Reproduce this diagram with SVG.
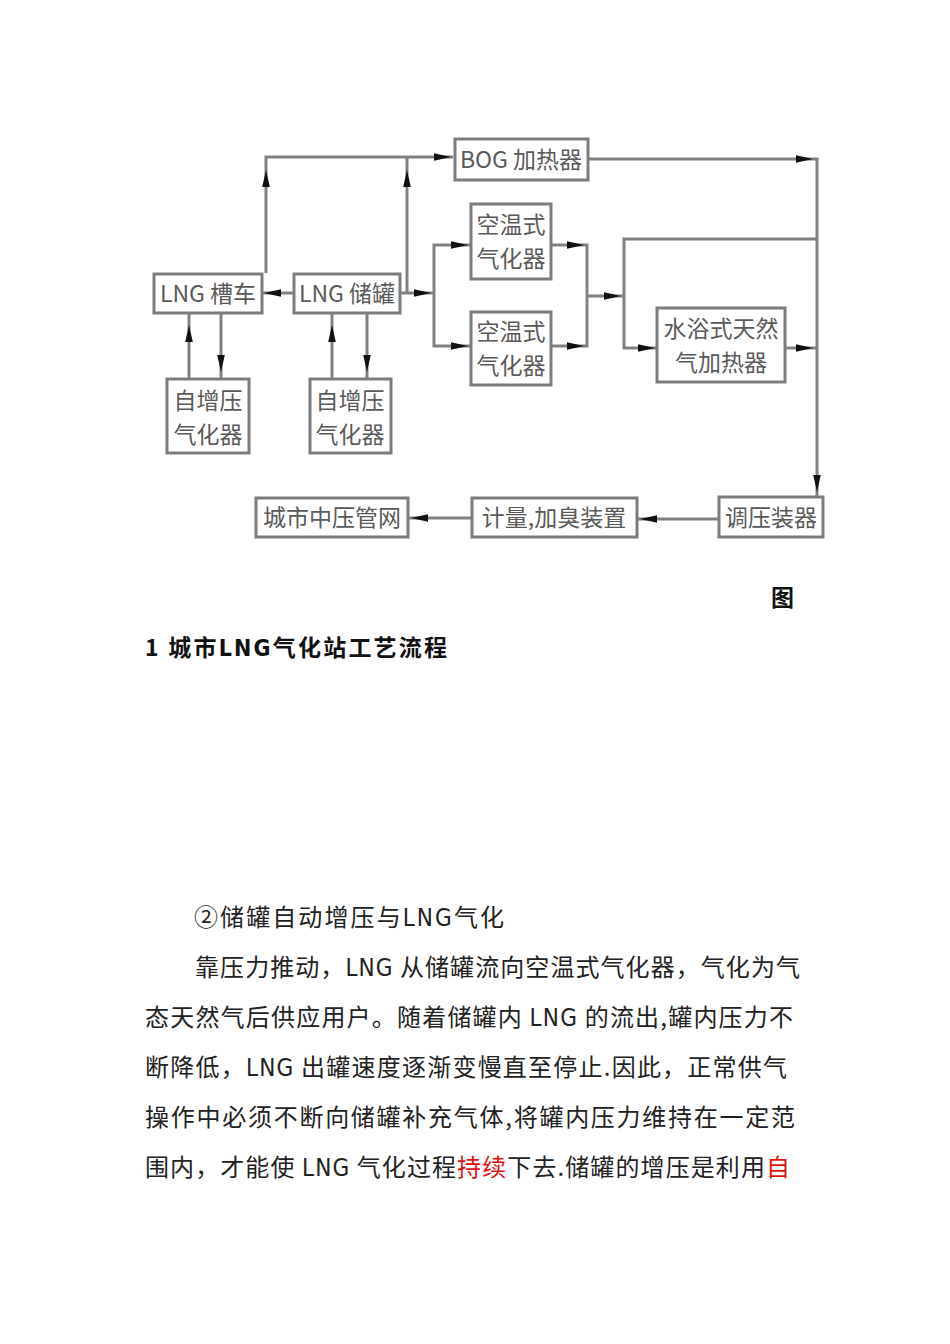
<svg xmlns="http://www.w3.org/2000/svg" xmlns:xlink="http://www.w3.org/1999/xlink" width="950" height="1344" viewBox="0 0 950 1344">
<style>
.box{fill:#fff;stroke:#7c7c7c;stroke-width:3}
.bt{font-family:"Noto Sans CJK SC","Noto Sans",sans-serif;font-size:23px;fill:#5a5a5a;text-anchor:middle}
.ln{fill:none;stroke:#808080;stroke-width:3}
.cap{font-family:"Noto Sans CJK SC","Noto Sans",sans-serif;font-size:23px;font-weight:bold;fill:#111}
.body{font-family:"Noto Sans CJK SC","Noto Sans",sans-serif;font-size:24px;fill:#222}
.lat{font-family:"Liberation Sans Narrow","DejaVu Sans Condensed","Noto Sans CJK SC",sans-serif}
.red{fill:#e01010}
</style>
<defs>
<path id="ah" d="M0,0 L-17,-3.8 L-17,3.8 Z" fill="#111"/>
</defs>
<rect width="950" height="1344" fill="#fff"/>

<g id="connectors">
<path class="ln" d="M266,273 V157 H453"/>
<path class="ln" d="M407,293 V157"/>
<path class="ln" d="M294,293 H262"/>
<path class="ln" d="M400,293 H434"/>
<path class="ln" d="M471,245 H434 V346 H471"/>
<path class="ln" d="M551,245 H587 V346 H551"/>
<path class="ln" d="M587,296 H624"/>
<path class="ln" d="M817,239 H624 V348 H657"/>
<path class="ln" d="M588,159 H817 V496"/>
<path class="ln" d="M785,348 H817"/>
<path class="ln" d="M719,519 H637"/>
<path class="ln" d="M472,518 H408"/>
<path class="ln" d="M189,379 V313"/>
<path class="ln" d="M221,313 V379"/>
<path class="ln" d="M332,379 V313"/>
<path class="ln" d="M367,313 V379"/>
<use xlink:href="#ah" transform="translate(266,170) rotate(-90)"/>
<use xlink:href="#ah" transform="translate(407,170) rotate(-90)"/>
<use xlink:href="#ah" transform="translate(451,157)"/>
<use xlink:href="#ah" transform="translate(264,293) rotate(180)"/>
<use xlink:href="#ah" transform="translate(431,293)"/>
<use xlink:href="#ah" transform="translate(468,245)"/>
<use xlink:href="#ah" transform="translate(468,346)"/>
<use xlink:href="#ah" transform="translate(584,245)"/>
<use xlink:href="#ah" transform="translate(584,346)"/>
<use xlink:href="#ah" transform="translate(621,296)"/>
<use xlink:href="#ah" transform="translate(655,348)"/>
<use xlink:href="#ah" transform="translate(813,159)"/>
<use xlink:href="#ah" transform="translate(813,348)"/>
<use xlink:href="#ah" transform="translate(817,492) rotate(90)"/>
<use xlink:href="#ah" transform="translate(640,519) rotate(180)"/>
<use xlink:href="#ah" transform="translate(411,518) rotate(180)"/>
<use xlink:href="#ah" transform="translate(189,325) rotate(-90)"/>
<use xlink:href="#ah" transform="translate(221,372) rotate(90)"/>
<use xlink:href="#ah" transform="translate(332,325) rotate(-90)"/>
<use xlink:href="#ah" transform="translate(367,372) rotate(90)"/>
</g>

<g id="n-tanker"><rect class="box" x="154" y="274" width="108" height="39"/><text class="bt" x="208" y="302">LNG 槽车</text></g>
<g id="n-tank"><rect class="box" x="294" y="274" width="106" height="39"/><text class="bt" x="347" y="302">LNG 储罐</text></g>
<g id="n-boost1"><rect class="box" x="167" y="379" width="82" height="74"/><text class="bt" x="208" y="409">自增压</text><text class="bt" x="208" y="443">气化器</text></g>
<g id="n-boost2"><rect class="box" x="310" y="379" width="81" height="74"/><text class="bt" x="350" y="409">自增压</text><text class="bt" x="350" y="443">气化器</text></g>
<g id="n-bog"><rect class="box" x="455" y="139" width="133" height="41"/><text class="bt" x="521" y="168">BOG 加热器</text></g>
<g id="n-air1"><rect class="box" x="471" y="204" width="80" height="75"/><text class="bt" x="511" y="233">空温式</text><text class="bt" x="511" y="267">气化器</text></g>
<g id="n-air2"><rect class="box" x="471" y="312" width="80" height="73"/><text class="bt" x="511" y="340">空温式</text><text class="bt" x="511" y="374">气化器</text></g>
<g id="n-water"><rect class="box" x="657" y="308" width="128" height="74"/><text class="bt" x="721" y="337">水浴式天然</text><text class="bt" x="721" y="371">气加热器</text></g>
<g id="n-reg"><rect class="box" x="719" y="497" width="104" height="40"/><text class="bt" x="771" y="526">调压装器</text></g>
<g id="n-meter"><rect class="box" x="472" y="498" width="165" height="39"/><text class="bt" x="554" y="526">计量,加臭装置</text></g>
<g id="n-city"><rect class="box" x="256" y="498" width="152" height="39"/><text class="bt" x="332" y="526">城市中压管网</text></g>

<text class="cap" x="771" y="606">图</text>
<text class="cap" x="145" y="656" textLength="302" lengthAdjust="spacing">1 城市<tspan class="lat">LNG</tspan>气化站工艺流程</text>

<text class="body" x="194" y="926" textLength="310" lengthAdjust="spacing">②储罐自动增压与<tspan class="lat">LNG</tspan>气化</text>
<text class="body" x="195" y="976" textLength="605" lengthAdjust="spacing">靠压力推动，<tspan class="lat">LNG</tspan> 从储罐流向空温式气化器，气化为气</text>
<text class="body" x="145" y="1026" textLength="648" lengthAdjust="spacing">态天然气后供应用户。随着储罐内 <tspan class="lat">LNG</tspan> 的流出,罐内压力不</text>
<text class="body" x="145" y="1076" textLength="642" lengthAdjust="spacing">断降低，<tspan class="lat">LNG</tspan> 出罐速度逐渐变慢直至停止.因此，正常供气</text>
<text class="body" x="145" y="1126" textLength="650" lengthAdjust="spacing">操作中必须不断向储罐补充气体,将罐内压力维持在一定范</text>
<text class="body" x="145" y="1176" textLength="645" lengthAdjust="spacing">围内，才能使 <tspan class="lat">LNG</tspan> 气化过程<tspan class="red">持续</tspan>下去.储罐的增压是利用<tspan class="red">自</tspan></text>
</svg>
